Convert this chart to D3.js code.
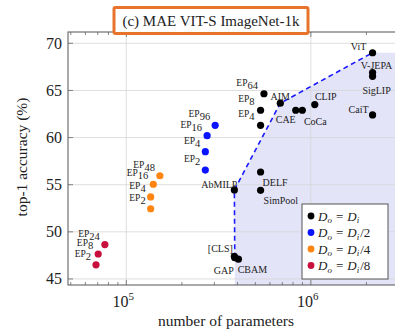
<!DOCTYPE html>
<html>
<head>
<meta charset="utf-8">
<script src="https://cdn.jsdelivr.net/npm/d3@7"></script>
<style>
  body { margin: 0; background: #fff; }
  text { font-family: "Liberation Serif", "DejaVu Serif", serif; fill: #222; }
</style>
</head>
<body>
<script>

// parameters (x) and top-1 accuracy (y) per group
var blackNames = ["ViT", "V-JEPA", "SigLIP", "CaiT", "CLIP", "CAE", "CoCa", "AIM", "EP64", "EP8", "EP4", "DELF", "SimPool", "AbMILP", "[CLS]", "GAP", "CBAM"];
var blackParams = [2.16e6, 2.16e6, 2.16e6, 2.16e6, 1.05e6, 8.28e5, 8.99e5, 6.83e5, 5.57e5, 5.34e5, 5.34e5, 5.34e5, 5.34e5, 3.85e5, 3.85e5, 3.87e5, 4.05e5];
var blackAcc = [69.0, 66.9, 66.5, 62.4, 63.5, 62.9, 62.9, 63.65, 64.65, 62.9, 61.3, 56.35, 54.4, 54.45, 47.4, 47.25, 47.1];

var blueNames = ["EP96", "EP16", "EP4", "EP2"];
var blueParams = [3.03e5, 2.74e5, 2.68e5, 2.68e5];
var blueAcc = [61.3, 60.2, 58.5, 56.55];

var orangeNames = ["EP48", "EP16", "EP4", "EP2"];
var orangeParams = [1.52e5, 1.40e5, 1.355e5, 1.355e5];
var orangeAcc = [55.95, 55.05, 53.7, 52.45];

var redNames = ["EP24", "EP8", "EP2"];
var redParams = [7.65e4, 7.04e4, 6.85e4];
var redAcc = [48.65, 47.65, 46.5];

// pareto frontier (dashed) through these black points
var frontier = ["GAP", "AbMILP", "AIM", "ViT"];

var yTicks = [45, 50, 55, 60, 65, 70];
var xTicks = [1e5, 1e6];
var legendLabels = ["", "/2", "/4", "/8"];

var width = 395, height = 330;
var pl = 68, pr = 400, pt = 32, pb = 285;

var svg = d3.select("body").append("svg")
  .attr("width", width)
  .attr("height", height);

var x = d3.scaleLog().domain([4.83e4, 2.93e6 * 1.038]).range([pl, pr]);
var y = d3.scaleLinear().domain([44.36, 71.2]).range([pb, pt]);

function rows(names, params, acc) {
  return names.map(function(n, i) { return {name: n, p: params[i], a: acc[i]}; });
}
var black = rows(blackNames, blackParams, blackAcc);
var groups = [
  {data: black, color: "#000000"},
  {data: rows(blueNames, blueParams, blueAcc), color: "#0a14ff"},
  {data: rows(orangeNames, orangeParams, orangeAcc), color: "#ff8410"},
  {data: rows(redNames, redParams, redAcc), color: "#c8103e"}
];

svg.append("clipPath").attr("id", "plotclip")
  .append("rect").attr("x", pl).attr("y", pt).attr("width", pr - pl).attr("height", pb - pt);

// shaded region right of the frontier
var fr = frontier.map(function(n) { return black.find(function(d) { return d.name === n; }); });
var shade = [[x(fr[0].p), pb]].concat(fr.map(function(d) { return [x(d.p), y(d.a)]; }));
shade.push([pr, y(fr[fr.length - 1].a)], [pr, pb]);
svg.append("path")
  .attr("clip-path", "url(#plotclip)")
  .attr("d", "M" + shade.join("L") + "Z")
  .attr("fill", "#e4e4f9");

// grid
svg.selectAll(".gy").data(yTicks).enter().append("line")
  .attr("x1", pl).attr("x2", pr)
  .attr("y1", function(d) { return y(d); }).attr("y2", function(d) { return y(d); })
  .attr("stroke", "#d6d6d6").attr("stroke-width", 0.8);
svg.selectAll(".gx").data(xTicks).enter().append("line")
  .attr("y1", pt).attr("y2", pb)
  .attr("x1", function(d) { return x(d); }).attr("x2", function(d) { return x(d); })
  .attr("stroke", "#d6d6d6").attr("stroke-width", 0.8);

// minor ticks on x (bottom and top, inside)
var minor = [];
[1e4, 1e5, 1e6].forEach(function(b) { for (var k = 2; k <= 9; k++) minor.push(b * k); });
minor = minor.filter(function(v) { return x(v) > pl && x(v) < pr; });
var tickG = svg.append("g").attr("stroke", "#555").attr("stroke-width", 0.7);
minor.forEach(function(v) {
  tickG.append("line").attr("x1", x(v)).attr("x2", x(v)).attr("y1", pb).attr("y2", pb - 3);
  tickG.append("line").attr("x1", x(v)).attr("x2", x(v)).attr("y1", pt).attr("y2", pt + 3);
});
xTicks.forEach(function(v) {
  tickG.append("line").attr("x1", x(v)).attr("x2", x(v)).attr("y1", pb).attr("y2", pb - 5);
  tickG.append("line").attr("x1", x(v)).attr("x2", x(v)).attr("y1", pt).attr("y2", pt + 5);
});
yTicks.forEach(function(v) {
  tickG.append("line").attr("x1", pl).attr("x2", pl + 5).attr("y1", y(v)).attr("y2", y(v));
});

// frame
svg.append("rect")
  .attr("x", pl).attr("y", pt).attr("width", pr - pl).attr("height", pb - pt)
  .attr("fill", "none").attr("stroke", "#555").attr("stroke-width", 1);

// frontier dashed line
svg.append("path")
  .attr("d", d3.line().x(function(d) { return x(d.p); }).y(function(d) { return y(d.a); })(fr))
  .attr("fill", "none").attr("stroke", "#1a1aff").attr("stroke-width", 1.6)
  .attr("stroke-dasharray", "5,3.5");

// tick labels
svg.selectAll(".yl").data(yTicks).enter().append("text")
  .attr("x", pl - 6).attr("y", function(d) { return y(d) + 5.5; })
  .attr("text-anchor", "end").attr("font-size", 16)
  .text(function(d) { return d; });
xTicks.forEach(function(v) {
  var t = svg.append("text").attr("x", x(v) - 3).attr("y", 307)
    .attr("text-anchor", "middle").attr("font-size", 16);
  t.append("tspan").text("10");
  t.append("tspan").attr("dy", -7).attr("font-size", 11).text(Math.round(Math.log10(v)));
});

svg.append("text").attr("x", 226).attr("y", 326).attr("text-anchor", "middle")
  .attr("font-size", 15.5).text("number of parameters");
svg.append("text").attr("transform", "translate(27,157) rotate(-90)")
  .attr("text-anchor", "middle").attr("font-size", 15.5).text("top-1 accuracy (%)");

// points
groups.forEach(function(g) {
  svg.append("g").selectAll("circle").data(g.data).enter().append("circle")
    .attr("cx", function(d) { return x(d.p); })
    .attr("cy", function(d) { return y(d.a); })
    .attr("r", 3.6).attr("fill", g.color);
});

// EP labels: upper-left of point with subscript
function epLabel(d, dx, dy) {
  var m = d.name.match(/^EP(\d+)$/);
  var t = svg.append("text")
    .attr("x", x(d.p) + dx).attr("y", y(d.a) + dy)
    .attr("text-anchor", "end").attr("font-size", 9.5);
  t.append("tspan").text("EP");
  t.append("tspan").attr("dy", 3).attr("font-size", 10.5).text(m[1]);
}
groups.forEach(function(g, gi) {
  g.data.forEach(function(d) {
    if (/^EP/.test(d.name)) epLabel(d, gi === 0 ? -6 : -5, -8);
  });
});

// named labels: offsets relative to point
var offs = {
  "ViT": [-14, -6, "middle"], "V-JEPA": [4, -7, "middle"], "SigLIP": [4, 15, "middle"],
  "CaiT": [-14, -5, "middle"], "CLIP": [11, -8, "middle"], "CAE": [-10, 10, "middle"],
  "CoCa": [13, 12, "middle"], "AIM": [0, -6, "middle"], "DELF": [2, 11, "start"],
  "SimPool": [3, 11, "start"], "AbMILP": [-15, -5, "middle"], "[CLS]": [-14, -7, "middle"],
  "GAP": [-11, 13, "middle"], "CBAM": [14, 11, "middle"]
};
black.forEach(function(d) {
  var o = offs[d.name];
  if (!o) return;
  svg.append("text").attr("x", x(d.p) + o[0]).attr("y", y(d.a) + o[1] + 3)
    .attr("text-anchor", o[2]).attr("font-size", 10).text(d.name);
});

// legend
var lg = svg.append("g").attr("transform", "translate(302,204)");
lg.append("rect").attr("width", 86).attr("height", 75)
  .attr("fill", "#fff").attr("stroke", "#555").attr("stroke-width", 1);
groups.forEach(function(g, i) {
  var row = lg.append("g").attr("transform", "translate(0," + (12 + i * 16.5) + ")");
  row.append("circle").attr("cx", 9).attr("cy", 0).attr("r", 3.4).attr("fill", g.color);
  var t = row.append("text").attr("x", 16).attr("y", 4.5).attr("font-size", 13).attr("font-style", "italic");
  t.append("tspan").text("D");
  t.append("tspan").attr("dy", 2.5).attr("font-size", 9).text("o");
  t.append("tspan").attr("dy", -2.5).attr("dx", 4).attr("font-style", "normal").text("=");
  t.append("tspan").attr("dx", 4).text("D");
  t.append("tspan").attr("dy", 2.5).attr("font-size", 9).text("i");
  if (legendLabels[i]) t.append("tspan").attr("dy", -2.5).attr("dx", 1).attr("font-style", "normal").text(legendLabels[i]);
});

// title box
svg.append("rect").attr("x", 114).attr("y", 7.5).attr("width", 194).attr("height", 26)
  .attr("fill", "#fff").attr("stroke", "#e8732a").attr("stroke-width", 3).attr("rx", 1.5);
svg.append("text").attr("x", 211).attr("y", 26).attr("text-anchor", "middle")
  .attr("font-size", 15).text("(c) MAE VIT-S ImageNet-1k");

</script>
</body>
</html>
